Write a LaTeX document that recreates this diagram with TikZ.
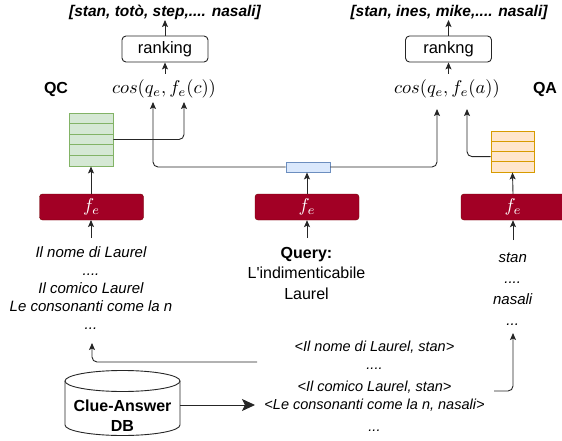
\documentclass[tikz,border=0pt]{standalone}
\usepackage{graphicx}
\usepackage{fontspec}
\setmainfont{Liberation Sans}[Ligatures=TeXOff]
\usetikzlibrary{arrows.meta}
\definecolor{crimson}{HTML}{A20025}
\definecolor{crimsonline}{HTML}{6F0000}
\definecolor{gfill}{HTML}{D5E8D4}
\definecolor{gline}{HTML}{82B366}
\definecolor{ofill}{HTML}{FFE6CC}
\definecolor{oline}{HTML}{D79B00}
\definecolor{bfill}{HTML}{DAE8FC}
\definecolor{bline}{HTML}{6C8EBF}
\tikzset{
  conn/.style={draw=black!85, line width=0.9pt, rounded corners=5pt, -{Stealth[length=7pt,width=6pt,inset=1.5pt]}},
  bigconn/.style={draw=black!85, line width=0.9pt, -{Stealth[length=13pt,width=12pt,inset=3pt]}},
  txtit/.style={inner sep=0pt, anchor=base, font=\fontsize{15}{18}\selectfont\itshape},
  txtbt/.style={inner sep=0pt, anchor=base, font=\fontsize{14.5}{18}\selectfont\itshape},
  txtup/.style={inner sep=0pt, anchor=base, font=\fontsize{16}{19}\selectfont},
  txtbold/.style={inner sep=0pt, anchor=base, font=\fontsize{16}{19}\selectfont\bfseries},
  toplist/.style={inner sep=0pt, anchor=base, font=\fontsize{15.5}{19}\selectfont\bfseries\itshape},
  rankbox/.style={draw=black!85, line width=0.9pt, rounded corners=4pt, minimum width=86pt, minimum height=26pt, inner sep=0pt, font=\fontsize{16.5}{19}\selectfont},
  cosnode/.style={inner sep=0pt},
  febox/.style={draw=crimsonline, fill=crimson, rounded corners=3pt, minimum width=104pt, minimum height=26pt, inner sep=0pt, text=white},
  gstack/.style={draw=gline, fill=gfill, line width=0.9pt, minimum width=44pt, minimum height=53pt, inner sep=0pt},
  ostack/.style={draw=oline, fill=ofill, line width=0.9pt, minimum width=43pt, minimum height=41pt, inner sep=0pt},
  bbar/.style={draw=bline, fill=bfill, line width=0.9pt, minimum width=44pt, minimum height=10pt, inner sep=0pt},
}
\newcommand{\bigmath}[1]{\scalebox{1.85}{$#1$}}
\begin{document}
\begin{tikzpicture}[x=1pt,y=-1pt]
\useasboundingbox (0,0) rectangle (562,441);

% top outputs
\node[toplist] (topL) at (165,16.5) {[stan, totò, step,.... nasali]};
\node[toplist] (topR) at (449,16.5) {[stan, ines, mike,.... nasali]};

% ranking boxes
\node[rankbox] (rankL) at (165,49) {ranking};
\node[rankbox] (rankR) at (448.5,49) {rankng};

% cosine nodes
\node[cosnode] (cosL) at (164,89) {\bigmath{cos(q_e, f_e(c))}};
\node[cosnode] (cosR) at (447,89) {\bigmath{cos(q_e, f_e(a))}};

% labels
\node[txtbold] (qc) at (56,94) {QC};
\node[txtbold] (qa) at (545,94) {QA};

% stacks
\node[gstack] (gst) at (91,139.5) {};
\foreach \k in {1,...,4} {
  \draw[gline, line width=0.9pt] (69,113+10.6*\k) -- (113,113+10.6*\k);
}
\node[ostack] (ost) at (512.5,151.5) {};
\foreach \k in {1,...,3} {
  \draw[oline, line width=0.9pt] (491,131+10.25*\k) -- (534,131+10.25*\k);
}
\node[bbar] (bb) at (308,167) {};

% encoders
\node[febox] (feL) at (91.5,207) {\bigmath{f_e}};
\node[febox] (feM) at (307,207) {\bigmath{f_e}};
\node[febox] (feR) at (513,207) {\bigmath{f_e}};

% left list
\node[txtit] (lL1) at (91,257.3) {Il nome di Laurel};
\node[txtit] (lL2) at (91,275) {....};
\node[txtit] (lL3) at (91,293.3) {Il comico Laurel};
\node[txtit] (lL4) at (91,311.5) {Le consonanti come la n};
\node[txtit] (lL5) at (91,329.5) {...};

% query
\node[txtbold] (q1) at (306.5,258) {Query:};
\node[txtup] (q2) at (306.5,278.5) {L'indimenticabile};
\node[txtup] (q3) at (306.5,299) {Laurel};

% right list
\node[txtit] (lR1) at (512.7,262.7) {stan};
\node[txtit] (lR2) at (512.7,283.5) {....};
\node[txtit] (lR3) at (512.7,304) {nasali};
\node[txtit] (lR4) at (512.7,325) {...};

% bottom pairs
\node[txtbt] (b1) at (374.5,351.7) {<Il nome di Laurel, stan>};
\node[txtbt] (b2) at (374.5,369.5) {....};
\node[txtbt] (b3) at (374.5,391) {<Il comico Laurel, stan>};
\node[txtbt] (b4) at (374.5,409.3) {<Le consonanti come la n, nasali>};
\node[txtbt] (b5) at (374.5,431) {...};

% database cylinder
\draw[black!85, line width=0.9pt, fill=white] (65,381) -- (65,425) arc[start angle=180, end angle=360, x radius=57.5pt, y radius=10.5pt] -- (180,381);
\draw[black!85, line width=0.9pt, fill=white] (122.5,381) ellipse[x radius=57.5pt, y radius=10.5pt];
\node[txtbold] (db1) at (122.5,411.7) {Clue-Answer};
\node[txtbold] (db2) at (122.5,431.7) {DB};

% coordinates for free ends
\coordinate (cLa) at (153,102);
\coordinate (cLb) at (184,102);
\coordinate (cRa) at (437,109);
\coordinate (cRb) at (467,109);
\coordinate (dbE) at (180,405);
\coordinate (dbT) at (255,405);
\coordinate (bS) at (257,362);
\coordinate (bT) at (92,343);
\coordinate (rS) at (494,391);
\coordinate (rT) at (513,333);

% connectors
\draw[conn] (gst.east) -| (cLb);
\draw[conn] (bb.west) -| (cLa);
\draw[conn] (bb.east) -| (cRa);
\draw[conn] ([yshift=-5.1pt]ost.west) -| (cRb);
\draw[conn] (165,74) -- (rankL.south);
\draw[conn] (rankL.north) -- (165,20);
\draw[conn] (448.5,74) -- (rankR.south);
\draw[conn] (rankR.north) -- (448.5,20);
\draw[conn] (91,194) -- (gst.south);
\draw[conn] (feM.north) -- (bb.south -| feM.north);
\draw[conn] (feR.north) -- (ost.south);
\draw[conn] (91,238) -- (91,220);
\draw[conn] (307,238) -- (feM.south);
\draw[conn] (513,240) -- (feR.south);
\draw[conn] (bS) -| (bT);
\draw[conn] (rS) -| (rT);
\draw[bigconn] (dbE) -- (dbT);
\end{tikzpicture}
\end{document}
